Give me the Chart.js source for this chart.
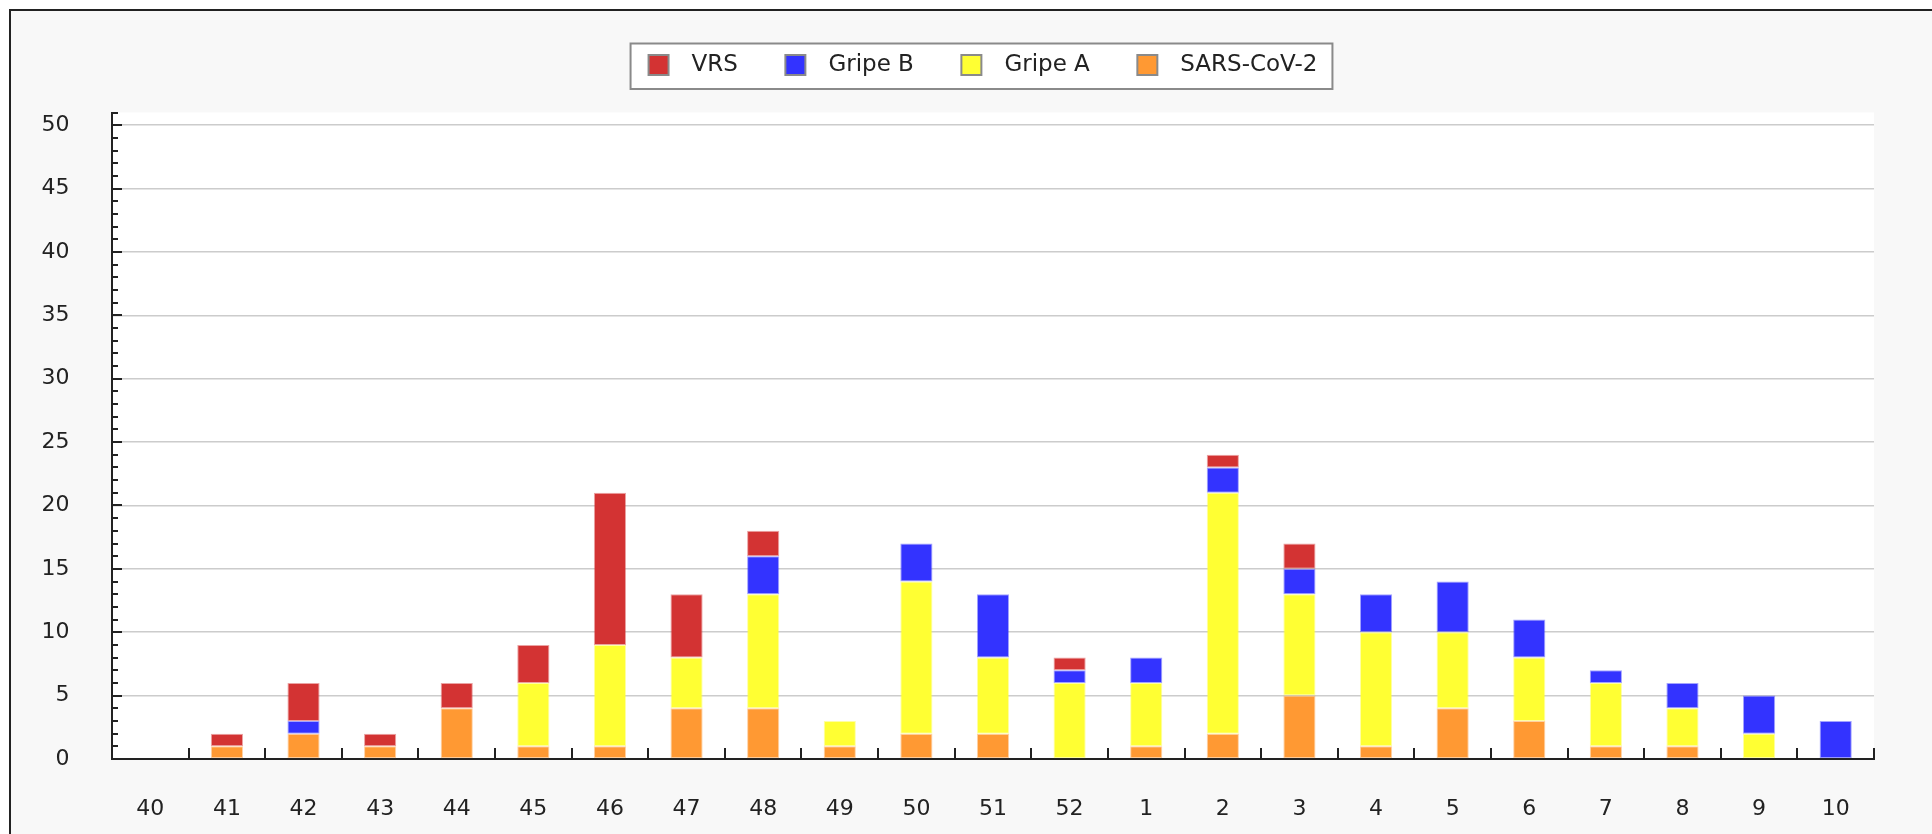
<!DOCTYPE html>
<html>
<head>
<meta charset="utf-8">
<script src="https://cdn.jsdelivr.net/npm/chart.js@4.4.1/dist/chart.umd.min.js"></script>
<style>
  html, body { margin: 0; padding: 0; background: #ffffff; overflow: hidden; }
  #frame { position: absolute; left: 9px; top: 9px; width: 2000px; height: 900px; border: 2px solid #222; background: #f8f8f8; }
  #c { position: absolute; left: 0; top: 0; z-index: 2; }
</style>
</head>
<body>
<div id="frame"></div>
<canvas id="c" width="1932" height="834"></canvas>
<script>
// ---- data ----
const weeks = ['40','41','42','43','44','45','46','47','48','49','50','51','52','1','2','3','4','5','6','7','8','9','10'];
const sarsCov2 = [0,1,2,1,4,1,1,4,4,1,2,2,0,1,2,5,1,4,3,1,1,0,0];
const gripeA   = [0,0,0,0,0,5,8,4,9,2,12,6,6,5,19,8,9,6,5,5,3,2,0];
const gripeB   = [0,0,1,0,0,0,0,0,3,0,3,5,1,2,2,2,3,4,3,1,2,3,3];
const vrs      = [0,1,3,1,2,3,12,5,2,0,0,0,1,0,1,2,0,0,0,0,0,0,0];
const seriesNames = ['SARS-CoV-2','Gripe A','Gripe B','VRS'];
const yTickValues = [0,5,10,15,20,25,30,35,40,45,50];

const FONT = '"DejaVu Sans", sans-serif';
Chart.defaults.font.family = FONT;
Chart.defaults.color = '#222';

const fills = ['rgb(255,153,51)','rgb(255,255,51)','rgb(51,51,255)','rgb(211,51,51)'];
const edges = ['rgba(255,153,51,0.45)','rgba(255,255,51,0.45)','rgba(51,51,255,0.45)','rgba(211,51,51,0.45)'];
const values = [sarsCov2, gripeA, gripeB, vrs];

const datasets = values.map((arr, i) => ({
  label: seriesNames[i],
  data: arr,
  backgroundColor: fills[i],
  borderColor: edges[i],
  borderWidth: c => (c.raw ? 1 : 0),
  borderSkipped: false,
  barPercentage: 0.42,
  categoryPercentage: 1.0
}));

const PADL = 92;

const decor = {
  id: 'decor',
  beforeDraw(chart) {
    const {ctx, chartArea: a} = chart;
    ctx.save();
    ctx.fillStyle = '#ffffff';
    ctx.fillRect(a.left, a.top, a.right - a.left, a.bottom - a.top);
    const hb = chart.legend && chart.legend.legendHitBoxes;
    if (hb && hb.length) {
      const l = Math.min(...hb.map(h => h.left)) - 18;
      const r = Math.max(...hb.map(h => h.left + h.width)) + 15;
      const t = Math.min(...hb.map(h => h.top)) - 10;
      const b = Math.max(...hb.map(h => h.top + h.height)) + 12.5;
      ctx.fillStyle = '#ffffff';
      ctx.fillRect(l, t, r - l, b - t);
      ctx.strokeStyle = '#8a8a8a';
      ctx.lineWidth = 2;
      ctx.strokeRect(l, t, r - l, b - t);
    }
    ctx.restore();
  },
  afterDatasetsDraw(chart) {
    const {ctx, chartArea: a, scales: {x, y}} = chart;
    ctx.save();
    ctx.strokeStyle = '#222';
    ctx.lineWidth = 2;
    ctx.beginPath();
    for (let v = 0; v <= 51; v++) {
      const py = Math.round(y.getPixelForValue(v));
      const len = v % 5 === 0 ? 10 : 6;
      ctx.moveTo(a.left, py);
      ctx.lineTo(a.left + len, py);
    }
    const half = (x.getPixelForValue(1) - x.getPixelForValue(0)) / 2;
    for (let i = 0; i < weeks.length; i++) {
      const px = Math.round(x.getPixelForValue(i) + half);
      ctx.moveTo(px, a.bottom);
      ctx.lineTo(px, a.bottom - 11);
    }
    ctx.stroke();
    ctx.restore();
  }
};

new Chart(document.getElementById('c'), {
  type: 'bar',
  data: { labels: weeks, datasets },
  plugins: [decor],
  options: {
    responsive: false,
    animation: false,
    layout: { padding: { left: PADL, right: 58, top: 6, bottom: 0 } },
    plugins: {
      legend: {
        display: true,
        position: 'top',
        reverse: true,
        labels: {
          boxWidth: 20,
          boxHeight: 20,
          padding: 47.5,
          color: '#222',
          font: { size: 23, family: FONT },
          generateLabels(chart) {
            const items = Chart.defaults.plugins.legend.labels.generateLabels(chart);
            return items.map(it => Object.assign(it, {
              text: '\u2002' + it.text,
              fillStyle: fills[it.datasetIndex],
              strokeStyle: '#8a8a8a',
              lineWidth: 2
            }));
          }
        }
      },
      title: {
        display: true,
        text: '',
        weight: 500,
        font: { size: 10 },
        padding: { top: 0, bottom: 14 }
      },
      tooltip: { enabled: false }
    },
    scales: {
      x: {
        stacked: true,
        offset: true,
        grid: { display: false, drawTicks: false },
        border: { display: true, color: '#222', width: 2 },
        ticks: { padding: 37, color: '#222', font: { size: 22 }, autoSkip: false, maxRotation: 0 },
        afterFit(s) { s.height = 75; }
      },
      y: {
        stacked: true,
        min: 0,
        max: 51,
        ticks: { stepSize: 5, mirror: true, crossAlign: 'far', padding: -70.5, color: '#222', font: { size: 22 } },
        afterBuildTicks(s) { s.ticks = yTickValues.map(v => ({ value: v })); },
        grid: { color: '#cccccc', lineWidth: 1.5, drawTicks: false },
        border: { display: true, color: '#222', width: 2 },
        afterFit(s) { s.width = 112 - PADL; }
      }
    }
  }
});
</script>
</body>
</html>
